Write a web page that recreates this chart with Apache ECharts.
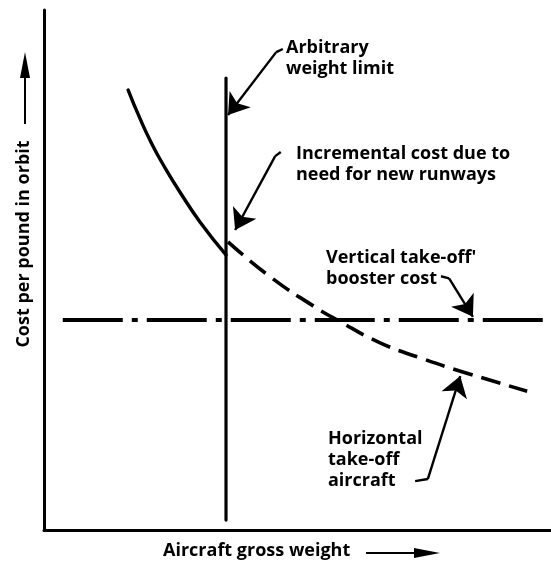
<!DOCTYPE html>
<html>
<head>
<meta charset="utf-8">
<script src="https://cdn.jsdelivr.net/npm/echarts@6/dist/echarts.min.js"></script>
<style>
html,body{margin:0;padding:0;background:#fff;}
#chart{width:551px;height:566px;}
</style>
</head>
<body>
<div id="chart"></div>
<script>
// Abstract scale 0..100 on both axes (no numeric ticks in the original)
const weightLimit = 35.9;
const limitTop = 86.9;
const limitBottom = 1.9;

// Horizontal take-off aircraft: solid up to the limit
const solidX = [16.6, 18.9, 21.3, 23.9, 26.8, 30.8, 35.9];
const solidY = [84.6, 79.2, 74.2, 69.6, 65.0, 59.2, 52.9];

// Beyond the limit (incl. incremental runway cost): dashed
const dashedX = [36.3, 44.6, 53.1, 57.8, 66.3, 74.2, 82.6, 95.3];
const dashedY = [55.4, 48.7, 43.1, 40.4, 36.0, 33.1, 30.4, 26.7];

// Vertical take-off booster cost: constant
const boosterCost = 40.4;
const boosterStart = 3.7;
const boosterEnd = 100;

// Leader lines: [hookStart, corner, arrowTip] in data units
const leaderArbitrary = [[47.1, 92.5], [45.8, 91.9], [36.3, 79.8]];
const leaderIncrement = [[46.7, 72.7], [45.6, 71.9], [37.7, 57.7]];
const leaderBooster   = [[78.3, 48.8], [79.9, 48.4], [84.6, 41.0]];
const leaderHorizontal= [[73.2, 9.4], [75.7, 9.8], [82.1, 29.6]];

const xTitle = 'Aircraft gross weight';
const yTitle = 'Cost per pound in orbit';
const noteArbitrary = 'Arbitrary\nweight limit';
const noteIncrement = 'Incremental cost due to\nneed for new runways';
const noteBooster = "Vertical take-off'\nbooster cost";
const noteHorizontal = 'Horizontal\ntake-off\naircraft';

const zip = (xs, ys) => xs.map((x, i) => [x, ys[i]]);
const leaders = [leaderArbitrary, leaderIncrement, leaderBooster, leaderHorizontal];

const FONT = 'bold 18px "Open Sans", Lato, sans-serif';
const chart = echarts.init(document.getElementById('chart'), null, {renderer: 'canvas'});

chart.setOption({
  animation: false,
  backgroundColor: '#ffffff',
  grid: {left: 44, right: 0, top: 10, bottom: 36},
  xAxis: {
    type: 'value', min: 0, max: 100,
    axisLine: {show: true, onZero: false, lineStyle: {color: '#000', width: 3}},
    axisTick: {show: false}, axisLabel: {show: false}, splitLine: {show: false}
  },
  yAxis: {
    type: 'value', min: 0, max: 100,
    axisLine: {show: true, onZero: false, lineStyle: {color: '#000', width: 3}},
    axisTick: {show: false}, axisLabel: {show: false}, splitLine: {show: false}
  },
  series: [
    {
      type: 'line', name: 'Weight limit', symbol: 'none',
      data: [[weightLimit, limitTop], [weightLimit, limitBottom]],
      lineStyle: {color: '#000', width: 3.2, cap: 'round'}
    },
    {
      type: 'line', name: 'Horizontal take-off (within limit)', symbol: 'none', smooth: 0.5,
      data: zip(solidX, solidY),
      lineStyle: {color: '#000', width: 3.4, cap: 'round'}
    },
    {
      type: 'line', name: 'Horizontal take-off (beyond limit)', symbol: 'none', smooth: 0.5,
      data: zip(dashedX, dashedY),
      lineStyle: {color: '#000', width: 3.6, type: [20, 9]}
    },
    {
      type: 'line', name: 'Vertical take-off booster cost', symbol: 'none',
      data: [[boosterStart, boosterCost], [boosterEnd, boosterCost]],
      lineStyle: {color: '#000', width: 4, type: [60, 9, 6, 9]}
    },
    {
      type: 'lines', coordinateSystem: 'cartesian2d', symbol: ['none', 'none'],
      data: leaders.map(l => ({coords: [l[0], l[1]]})),
      lineStyle: {color: '#000', width: 2.4, opacity: 1}
    },
    {
      type: 'lines', coordinateSystem: 'cartesian2d', symbol: ['none', 'arrow'], symbolSize: [9, 20],
      data: leaders.map(l => ({coords: [l[1], l[2]]})),
      lineStyle: {color: '#000', width: 2.4, opacity: 1}
    }
  ],
  graphic: [
    {type: 'text', left: 286, top: 37, style: {text: noteArbitrary, font: FONT, lineHeight: 21, fill: '#000'}},
    {type: 'text', left: 296, top: 143, style: {text: noteIncrement, font: FONT, lineHeight: 21, fill: '#000'}},
    {type: 'text', left: 326, top: 247, style: {text: noteBooster, font: FONT, lineHeight: 21, fill: '#000'}},
    {type: 'text', left: 328, top: 428, style: {text: noteHorizontal, font: FONT, lineHeight: 21, fill: '#000'}},
    {type: 'text', x: 163, y: 551, style: {text: xTitle, font: FONT, textAlign: 'left', textVerticalAlign: 'middle', fill: '#000'}},
    {type: 'line', shape: {x1: 366, y1: 553, x2: 424, y2: 553}, style: {stroke: '#000', lineWidth: 2}},
    {type: 'polygon', shape: {points: [[440, 553], [414, 548], [414, 558]]}, style: {fill: '#000'}},
    {type: 'text', x: 24, y: 244, rotation: Math.PI / 2, style: {text: yTitle, font: FONT, textAlign: 'center', textVerticalAlign: 'middle', fill: '#000'}},
    {type: 'line', shape: {x1: 25, y1: 124, x2: 25, y2: 66}, style: {stroke: '#000', lineWidth: 2}},
    {type: 'polygon', shape: {points: [[25, 52], [20, 78], [30, 78]]}, style: {fill: '#000'}}
  ]
});
</script>
</body>
</html>
